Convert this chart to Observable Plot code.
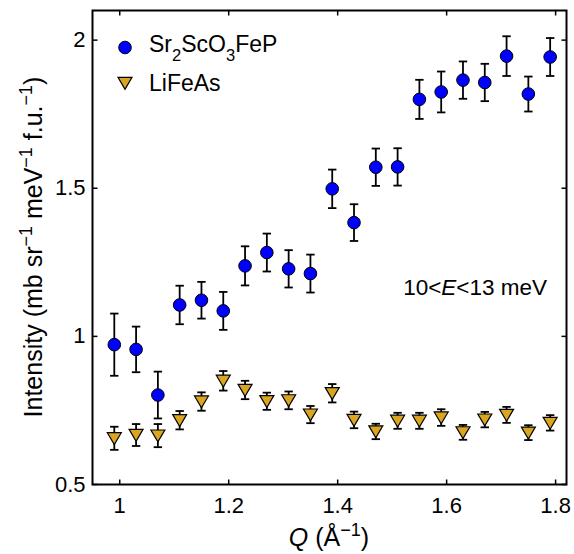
<!DOCTYPE html>
<html><head><meta charset="utf-8">
<script src="https://cdn.jsdelivr.net/npm/d3@7"></script>
<script src="https://cdn.jsdelivr.net/npm/@observablehq/plot@0.6"></script>
<style>body{margin:0;background:#fff}</style>
</head><body><div id="chart"></div>
<script>
// Q values (Å^-1)
const Q = [0.99, 1.03, 1.07, 1.11, 1.15, 1.19, 1.23, 1.27, 1.31, 1.35, 1.39, 1.43, 1.47, 1.51, 1.55, 1.59, 1.63, 1.67, 1.71, 1.75, 1.79];
// Sr2ScO3FeP intensity and error
const srI   = [0.972, 0.956, 0.802, 1.106, 1.122, 1.086, 1.238, 1.283, 1.228, 1.212, 1.498, 1.384, 1.571, 1.572, 1.800, 1.825, 1.865, 1.857, 1.946, 1.818, 1.943];
const srErr = [0.105, 0.077, 0.079, 0.065, 0.062, 0.064, 0.066, 0.064, 0.063, 0.064, 0.065, 0.062, 0.063, 0.063, 0.066, 0.069, 0.063, 0.063, 0.067, 0.059, 0.064];
// LiFeAs intensity and error
const liI   = [0.656, 0.667, 0.665, 0.717, 0.780, 0.850, 0.819, 0.781, 0.784, 0.736, 0.808, 0.718, 0.679, 0.715, 0.715, 0.726, 0.676, 0.719, 0.735, 0.675, 0.708];
const liErr = [0.039, 0.037, 0.039, 0.031, 0.031, 0.033, 0.031, 0.029, 0.030, 0.029, 0.031, 0.028, 0.026, 0.027, 0.027, 0.028, 0.025, 0.026, 0.027, 0.025, 0.026];
// ticks
const xTicks = [1, 1.2, 1.4, 1.6, 1.8];
const yTicks = [0.5, 1, 1.5, 2];
const seriesNames = ["Sr2ScO3FeP", "LiFeAs"];

const srData = Q.map((q, i) => ({q, v: srI[i], e: srErr[i]}));
const liData = Q.map((q, i) => ({q, v: liI[i], e: liErr[i]}));

const triDown = {draw(ctx, size) { const r = Math.sqrt(size / Math.PI); ctx.moveTo(-r, -0.8 * r); ctx.lineTo(r, -0.8 * r); ctx.lineTo(0, 0.9 * r); ctx.closePath(); }};
const cap = {draw(ctx, size) { const r = Math.sqrt(size / Math.PI); ctx.moveTo(-r, 0); ctx.lineTo(r, 0); }};
const tickSym = (dx, dy) => ({draw(ctx, size) { const r = Math.sqrt(size / Math.PI); ctx.moveTo(0, 0); ctx.lineTo(dx * r, dy * r); }});

const FONT = '"Liberation Sans", Arial, Helvetica, sans-serif';
const fmt = d3.format("~g");
const BLUE = "#0000ff", GOLD = "#daa520";
const TL = 5;

function errMarks(data) {
  return [
    Plot.ruleX(data, {x: "q", y1: d => d.v - d.e, y2: d => d.v + d.e, stroke: "black", strokeWidth: 1.8}),
    Plot.dot(data, {x: "q", y: d => d.v - d.e, symbol: cap, r: 4.2, fill: "none", stroke: "black", strokeWidth: 1.8}),
    Plot.dot(data, {x: "q", y: d => d.v + d.e, symbol: cap, r: 4.2, fill: "none", stroke: "black", strokeWidth: 1.8})
  ];
}
const tickOpts = {r: TL, fill: "none", stroke: "black", strokeWidth: 1.5};

const chart = Plot.plot({
  width: 574, height: 554,
  marginLeft: 92, marginRight: 8, marginTop: 10, marginBottom: 70,
  style: {fontFamily: FONT, fontSize: "22px", background: "white", color: "black"},
  x: {domain: [0.95, 1.82]},
  y: {domain: [0.5, 2.1]},
  marks: [
    Plot.axisX({ticks: xTicks, tickSize: 0, tickPadding: 13, tickFormat: fmt, label: null}),
    Plot.axisY({ticks: yTicks, tickSize: 0, tickPadding: 7, tickFormat: fmt, label: null}),
    // inward tick marks on all four sides
    Plot.dot(xTicks, {x: d => d, frameAnchor: "bottom", symbol: tickSym(0, -1), ...tickOpts}),
    Plot.dot(xTicks, {x: d => d, frameAnchor: "top", symbol: tickSym(0, 1), ...tickOpts}),
    Plot.dot(yTicks, {y: d => d, frameAnchor: "left", symbol: tickSym(1, 0), ...tickOpts}),
    Plot.dot(yTicks, {y: d => d, frameAnchor: "right", symbol: tickSym(-1, 0), ...tickOpts}),
    ...errMarks(srData),
    ...errMarks(liData),
    Plot.dot(srData, {x: "q", y: "v", r: 6.3, fill: BLUE, stroke: "black", strokeWidth: 1}),
    Plot.dot(liData, {x: "q", y: "v", symbol: triDown, r: 7, fill: GOLD, stroke: "black", strokeWidth: 1.2}),
    Plot.frame({stroke: "black", strokeWidth: 2})
  ]
});
document.getElementById("chart").append(chart);

const svg = d3.select(chart);
function rich(sel, segs, F) {
  let cur = 0;
  for (const [t, kind] of segs) {
    const target = kind === "sup" ? -0.42 * F : kind === "sub" ? 0.38 * F : 0;
    const ts = sel.append("tspan").text(t).attr("dy", target - cur);
    cur = target;
    if (kind === "sup" || kind === "sub") ts.attr("font-size", 0.72 * F);
    if (kind === "i") ts.attr("font-style", "italic");
  }
}
// Y title
const yt = svg.append("text").attr("transform", "translate(42,247) rotate(-90)")
  .attr("text-anchor", "middle").attr("font-size", 25).attr("fill", "black");
rich(yt, [["Intensity (mb sr"], ["\u22121", "sup"], [" meV"], ["\u22121", "sup"], [" f.u."], ["\u22121", "sup"], [")"]], 25);
// X title
const xt = svg.append("text").attr("x", 329).attr("y", 546)
  .attr("text-anchor", "middle").attr("font-size", 25).attr("fill", "black");
rich(xt, [["Q", "i"], [" (\u00c5"], ["\u22121", "sup"], [")"]], 25);
// Annotation
const an = svg.append("text").attr("x", 547).attr("y", 295)
  .attr("text-anchor", "end").attr("font-size", 22.5).attr("fill", "black");
rich(an, [["10<"], ["E", "i"], ["<13 meV"]], 22.5);
// Legend
const lg = svg.append("g");
lg.append("circle").attr("cx", 125).attr("cy", 47.5).attr("r", 6.3).attr("fill", BLUE).attr("stroke", "black");
lg.append("path").attr("transform", "translate(125,83)").attr("d", d3.symbol(triDown, Math.PI * 49)()).attr("fill", GOLD).attr("stroke", "black").attr("stroke-width", 1.2);
const l1 = lg.append("text").attr("x", 149).attr("y", 52).attr("text-anchor", "start").attr("font-size", 23).attr("fill", "black");
rich(l1, [["Sr"], ["2", "sub"], ["ScO"], ["3", "sub"], ["FeP"]], 23);
lg.append("text").attr("x", 149).attr("y", 91).attr("text-anchor", "start").attr("font-size", 23).attr("fill", "black").text(seriesNames[1]);
</script>
</body></html>
